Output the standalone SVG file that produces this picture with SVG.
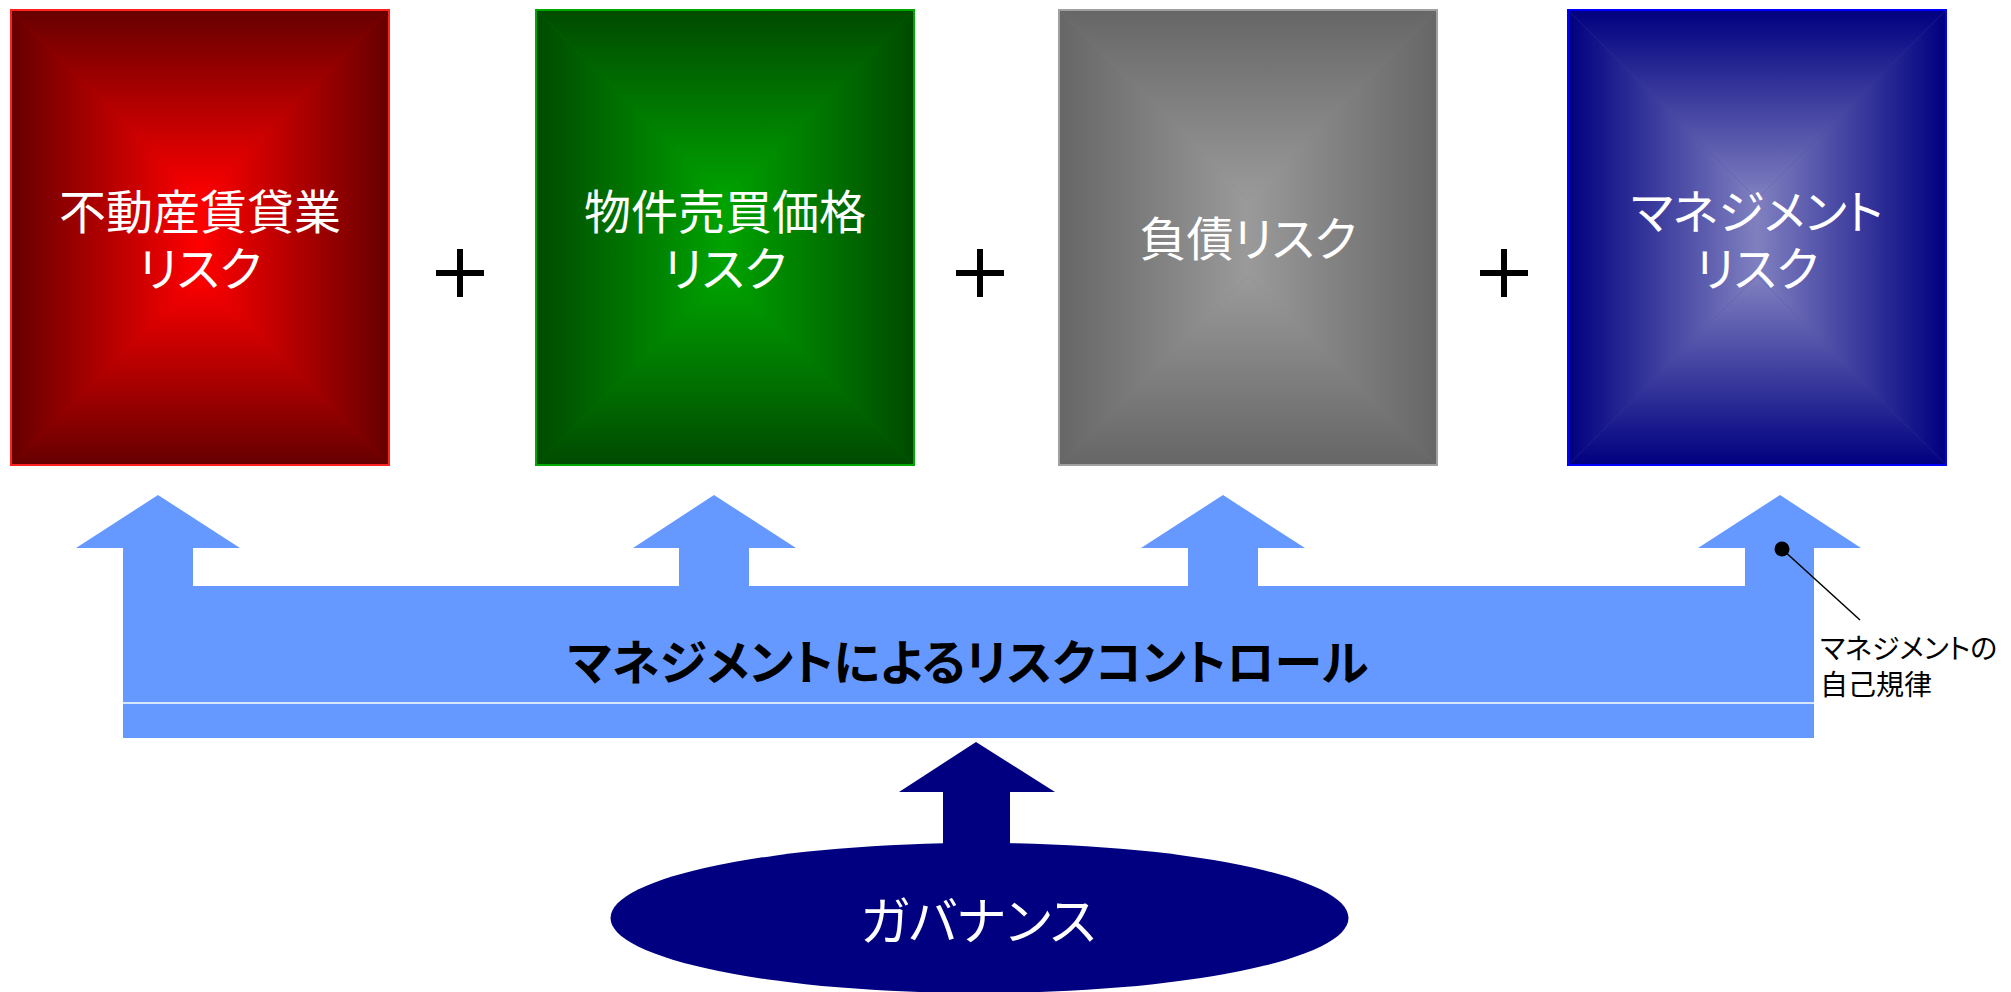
<svg xmlns="http://www.w3.org/2000/svg" width="2011" height="992" viewBox="0 0 2011 992">
  <style>
    text { font-family: "Noto Sans CJK JP", "Noto Sans", sans-serif; font-feature-settings: "palt"; }
    .box-t { fill: #ffffff; font-size: 47px; text-anchor: middle; }
    .plus { stroke: #000000; stroke-width: 6; fill: none; }
    .band { fill: #6699FF; }
    .main { fill: #000000; font-size: 48px; font-weight: 700; text-anchor: middle; }
    .gov-t { fill: #ffffff; font-size: 51px; text-anchor: middle; }
    .note { fill: #000000; font-size: 28px; }
    .navy { fill: #000080; }
  </style>
  <defs>
    <linearGradient id="rT" x1="0" y1="0" x2="0" y2="1"><stop offset="0" stop-color="#660000"/><stop offset="1" stop-color="#FF0000"/></linearGradient>
    <linearGradient id="rB" x1="0" y1="1" x2="0" y2="0"><stop offset="0" stop-color="#660000"/><stop offset="1" stop-color="#FF0000"/></linearGradient>
    <linearGradient id="rL" x1="0" y1="0" x2="1" y2="0"><stop offset="0" stop-color="#660000"/><stop offset="1" stop-color="#FF0000"/></linearGradient>
    <linearGradient id="rR" x1="1" y1="0" x2="0" y2="0"><stop offset="0" stop-color="#660000"/><stop offset="1" stop-color="#FF0000"/></linearGradient>
    <linearGradient id="gT" x1="0" y1="0" x2="0" y2="1"><stop offset="0" stop-color="#004A00"/><stop offset="1" stop-color="#00A300"/></linearGradient>
    <linearGradient id="gB" x1="0" y1="1" x2="0" y2="0"><stop offset="0" stop-color="#004A00"/><stop offset="1" stop-color="#00A300"/></linearGradient>
    <linearGradient id="gL" x1="0" y1="0" x2="1" y2="0"><stop offset="0" stop-color="#004A00"/><stop offset="1" stop-color="#00A300"/></linearGradient>
    <linearGradient id="gR" x1="1" y1="0" x2="0" y2="0"><stop offset="0" stop-color="#004A00"/><stop offset="1" stop-color="#00A300"/></linearGradient>
    <linearGradient id="kT" x1="0" y1="0" x2="0" y2="1"><stop offset="0" stop-color="#666666"/><stop offset="1" stop-color="#9A9A9A"/></linearGradient>
    <linearGradient id="kB" x1="0" y1="1" x2="0" y2="0"><stop offset="0" stop-color="#666666"/><stop offset="1" stop-color="#9A9A9A"/></linearGradient>
    <linearGradient id="kL" x1="0" y1="0" x2="1" y2="0"><stop offset="0" stop-color="#666666"/><stop offset="1" stop-color="#9A9A9A"/></linearGradient>
    <linearGradient id="kR" x1="1" y1="0" x2="0" y2="0"><stop offset="0" stop-color="#666666"/><stop offset="1" stop-color="#9A9A9A"/></linearGradient>
    <linearGradient id="bT" x1="0" y1="0" x2="0" y2="1"><stop offset="0" stop-color="#000080"/><stop offset="1" stop-color="#8080C0"/></linearGradient>
    <linearGradient id="bB" x1="0" y1="1" x2="0" y2="0"><stop offset="0" stop-color="#000080"/><stop offset="1" stop-color="#8080C0"/></linearGradient>
    <linearGradient id="bL" x1="0" y1="0" x2="1" y2="0"><stop offset="0" stop-color="#000080"/><stop offset="1" stop-color="#8080C0"/></linearGradient>
    <linearGradient id="bR" x1="1" y1="0" x2="0" y2="0"><stop offset="0" stop-color="#000080"/><stop offset="1" stop-color="#8080C0"/></linearGradient>
  </defs>

  <rect x="0" y="0" width="2011" height="992" fill="#ffffff"/>

  <g id="risk-rental">
    <rect x="11" y="10" width="378" height="455" fill="#B30000"/>
    <polygon points="11,10 389,10 200,199" fill="url(#rT)"/>
    <polygon points="11,465 389,465 200,276" fill="url(#rB)"/>
    <polygon points="11,10 200,199 200,276 11,465" fill="url(#rL)"/>
    <polygon points="389,10 200,199 200,276 389,465" fill="url(#rR)"/>
    <rect x="11" y="10" width="378" height="455" fill="none" stroke="#FF2020" stroke-width="2"/>
    <text class="box-t" x="200" y="229">不動産賃貸業</text>
    <text class="box-t" x="200" y="286">リスク</text>
  </g>

  <g id="risk-price">
    <rect x="536" y="10" width="378" height="455" fill="#007800"/>
    <polygon points="536,10 914,10 725,199" fill="url(#gT)"/>
    <polygon points="536,465 914,465 725,276" fill="url(#gB)"/>
    <polygon points="536,10 725,199 725,276 536,465" fill="url(#gL)"/>
    <polygon points="914,10 725,199 725,276 914,465" fill="url(#gR)"/>
    <rect x="536" y="10" width="378" height="455" fill="none" stroke="#00A800" stroke-width="2"/>
    <text class="box-t" x="725" y="229">物件売買価格</text>
    <text class="box-t" x="725" y="286">リスク</text>
  </g>

  <g id="risk-debt">
    <rect x="1059" y="10" width="378" height="455" fill="#808080"/>
    <polygon points="1059,10 1437,10 1248,199" fill="url(#kT)"/>
    <polygon points="1059,465 1437,465 1248,276" fill="url(#kB)"/>
    <polygon points="1059,10 1248,199 1248,276 1059,465" fill="url(#kL)"/>
    <polygon points="1437,10 1248,199 1248,276 1437,465" fill="url(#kR)"/>
    <rect x="1059" y="10" width="378" height="455" fill="none" stroke="#A0A0A0" stroke-width="2"/>
    <text class="box-t" x="1248" y="256">負債リスク</text>
  </g>

  <g id="risk-management">
    <rect x="1568" y="10" width="378" height="455" fill="#4040A0"/>
    <polygon points="1568,10 1946,10 1757,199" fill="url(#bT)"/>
    <polygon points="1568,465 1946,465 1757,276" fill="url(#bB)"/>
    <polygon points="1568,10 1757,199 1757,276 1568,465" fill="url(#bL)"/>
    <polygon points="1946,10 1757,199 1757,276 1946,465" fill="url(#bR)"/>
    <rect x="1568" y="10" width="378" height="455" fill="none" stroke="#0000FF" stroke-width="2"/>
    <text class="box-t" x="1757" y="229">マネジメント</text>
    <text class="box-t" x="1757" y="286">リスク</text>
  </g>

  <g id="plus-1"><path class="plus" d="M436,273 H484 M460,249 V297"/></g>
  <g id="plus-2"><path class="plus" d="M956,273 H1004 M980,249 V297"/></g>
  <g id="plus-3"><path class="plus" d="M1480,273 H1528 M1504,249 V297"/></g>

  <g id="risk-control">
    <path class="band" d="M123,738 L123,548 L76,548 L158,495 L240,548 L193,548 L193,586 L679,586 L679,548 L633,548 L714,495 L796,548 L749,548 L749,586 L1188,586 L1188,548 L1141,548 L1223,495 L1305,548 L1258,548 L1258,586 L1745,586 L1745,548 L1698,548 L1780,495 L1861,548 L1814,548 L1814,738 Z"/>
    <line x1="123" y1="703" x2="1814" y2="703" stroke="#ffffff" stroke-width="1.5"/>
    <text class="main" x="968" y="680">マネジメントによるリスクコントロール</text>
  </g>

  <g id="governance">
    <ellipse class="navy" cx="979.5" cy="918" rx="369" ry="75"/>
    <text class="gov-t" x="978" y="940">ガバナンス</text>
  </g>

  <g id="self-discipline-note">
    <text class="note" x="1820" y="659">マネジメントの</text>
    <text class="note" x="1820" y="695">自己規律</text>
  </g>

  <g id="connectors">
    <path class="navy" d="M943,850 L943,792 L899,792 L976,742 L1055,792 L1010,792 L1010,850 Z"/>
    <line x1="1782" y1="549" x2="1860" y2="620" stroke="#000000" stroke-width="1.5"/>
    <circle cx="1782" cy="549" r="7.5" fill="#000000"/>
  </g>
</svg>
